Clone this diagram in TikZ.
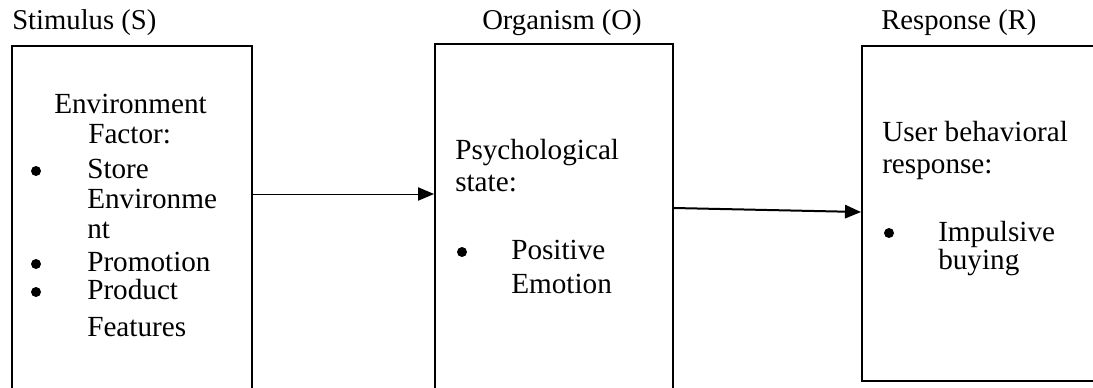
\documentclass[tikz,border=0pt]{standalone}
\usepackage{fontspec}
\setmainfont{Liberation Serif}
\usetikzlibrary{arrows.meta}
\begin{document}
\begin{tikzpicture}[x=0.75pt,y=-0.75pt,
 ttl/.style={anchor=base west,inner sep=0pt,font=\fontsize{21.5}{26}\selectfont},
 txt/.style={anchor=base west,inner sep=0pt,font=\fontsize{21.9}{26}\selectfont},
 bul/.style={circle,fill=black,inner sep=0pt,minimum size=7.5pt},
 box/.style={draw,line width=1.5pt,anchor=north west,inner sep=0pt},
 conn/.style={-{Triangle[length=12pt,width=10pt]}}]
\useasboundingbox (0,0) rectangle (1093,387);
\clip (0,0) rectangle (1093,387);
% titles
\node[ttl] (tS) at (12,29) {Stimulus (S)};
\node[ttl] (tO) at (482,29) {Organism (O)};
\node[ttl] (tR) at (881,29) {Response (R)};
% boxes
\node[box,minimum width=180pt,minimum height=266.25pt] (S) at (11,45) {};
\node[box,minimum width=178.5pt,minimum height=267.75pt] (O) at (434,43) {};
\node[box,minimum width=179.25pt,minimum height=251.25pt] (R) at (861,45) {};
% box S text
\node[txt] (s1) at (54,113) {Environment};
\node[txt] (s2) at (88,143) {Factor:};
\node[bul] (b1) at (36,171) {};
\node[txt] (s3) at (87,178) {Store};
\node[txt] (s4) at (87,208) {Environme};
\node[txt] (s5) at (87,238) {nt};
\node[bul] (b2) at (36,264) {};
\node[txt] (s6) at (87,271) {Promotion};
\node[bul] (b3) at (36,292) {};
\node[txt] (s7) at (87,299) {Product};
\node[txt] (s8) at (87,336) {Features};
% box O text
\node[txt] (o1) at (455,159) {Psychological};
\node[txt] (o2) at (455,191) {state:};
\node[bul] (b4) at (462,252) {};
\node[txt] (o3) at (511,259) {Positive};
\node[txt] (o4) at (511,293) {Emotion};
% box R text
\node[txt] (r1) at (882,141) {User behavioral};
\node[txt] (r2) at (882,173) {response:};
\node[bul] (b5) at (889,233) {};
\node[txt] (r3) at (938,241) {Impulsive};
\node[txt] (r4) at (938,269) {buying};
% connectors
\coordinate (a1) at (0,194);
\coordinate (a2) at (0,208);
\coordinate (a3) at (0,212);
\draw[conn,line width=0.75pt] (S.east |- a1) -- (O.west |- a1);
\draw[conn,line width=1.5pt] (O.east |- a2) -- (R.west |- a3);
\end{tikzpicture}
\end{document}
